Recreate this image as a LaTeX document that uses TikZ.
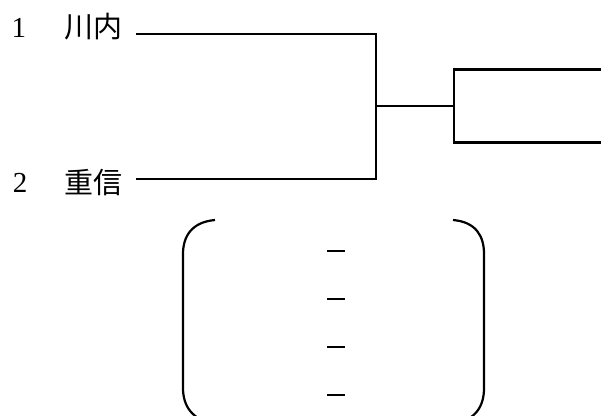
\documentclass[tikz,border=0pt]{standalone}
\usepackage{fontspec}
\newfontfamily\cjk{Noto Sans CJK JP}
\newfontfamily\numfont{Liberation Serif}
\begin{document}
\begin{tikzpicture}[x=1pt,y=-1pt,
  ln/.style={line width=2.2pt, line cap=rect},
  numtxt/.style={font=\numfont\fontsize{29}{31}\selectfont, inner sep=0pt},
  nametxt/.style={font=\cjk\fontsize{29}{31}\selectfont, inner sep=0pt},
  dashmark/.style={line width=1.8pt}]
\clip (0,0) rectangle (601,415);
\useasboundingbox (0,0) rectangle (601,415);
% labels
\node[numtxt]  (n1) at (19,28) {1};
\node[nametxt] (t1) at (93,27) {川内};
\node[numtxt]  (n2) at (20,183) {2};
\node[nametxt] (t2) at (93,183) {重信};
% bracket
\coordinate (a1) at (137,34);
\coordinate (a2) at (137,179);
\coordinate (j1) at (376,34);
\coordinate (j2) at (376,179);
\coordinate (m) at (376,106);
\node[draw, line width=2.2pt, minimum width=160pt, minimum height=73pt, inner sep=0pt, anchor=west] (win) at (453,106) {};
\draw[ln] (a1) -- (j1) -- (j2) -- (a2);
\draw[ln] (m) -- (win.west);
% parentheses
\coordinate (lt) at (215,220);
\coordinate (lb) at (215,424);
\coordinate (rt) at (453,220);
\coordinate (rb) at (453,424);
\draw[line width=2.2pt] (lt) .. controls (192,222) and (183,236) .. (183,254) -- (183,388) .. controls (183,406) and (192,420) .. (lb);
\draw[line width=2.2pt] (rt) .. controls (476,222) and (484,236) .. (484,254) -- (484,388) .. controls (484,406) and (476,420) .. (rb);
% dash marks
\foreach \yy/\k in {251/d1,299/d2,347/d3,395/d4}{
  \coordinate (\k a) at (327,\yy);
  \coordinate (\k b) at (345,\yy);
  \draw[dashmark] (\k a) -- (\k b);
}
\end{tikzpicture}
\end{document}
